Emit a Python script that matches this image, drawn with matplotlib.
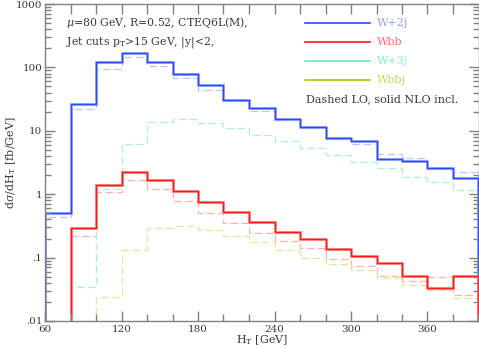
import numpy as np
import matplotlib
matplotlib.use("Agg")
import matplotlib.pyplot as plt
from matplotlib.lines import Line2D

# ---- data ----
ht_edges = [60, 80, 100, 120, 140, 160, 180, 200, 220, 240, 260, 280, 300, 320, 340, 360, 380, 400]

# W+2j, bins from 60 GeV
w2j_nlo = [0.51, 26.5, 123, 171, 122, 79, 53, 30.5, 22.5, 15.5, 11.3, 7.7, 6.8, 3.6, 3.3, 2.56, 1.78]
w2j_lo = [0.43, 21.8, 93, 144, 104, 69, 44, 29.5, 20.7, 14.8, 10.9, 7.4, 6.2, 4.3, 3.7, 2.5, 2.2]
# Wbb, bins from 80 GeV
wbb_nlo = [0.29, 1.4, 2.2, 1.67, 1.14, 0.75, 0.52, 0.36, 0.257, 0.195, 0.137, 0.107, 0.083, 0.051, 0.033, 0.052]
wbb_lo = [0.22, 1.07, 1.7, 1.2, 0.78, 0.51, 0.35, 0.24, 0.185, 0.14, 0.094, 0.074, 0.052, 0.043, 0.049, 0.026]
# W+3j LO, bins from 80 GeV
w3j_lo = [0.034, 1.22, 6.3, 13.6, 15.3, 13.1, 11.1, 8.6, 7.0, 5.3, 4.15, 3.2, 2.56, 1.9, 1.57, 1.16]
# Wbbj LO, bins from 100 GeV
wbbj_lo = [0.024, 0.134, 0.288, 0.313, 0.272, 0.222, 0.175, 0.13, 0.1, 0.078, 0.063, 0.048, 0.037, 0.031, 0.023]

legend_labels = ["W+2j", "Wbb", "W+3j", "Wbbj"]
ytick_vals = [0.01, 0.1, 1, 10, 100, 1000]
ytick_labels = [".01", ".1", "1", "10", "100", "1000"]
xtick_vals = [60, 120, 180, 240, 300, 360]

# ---- figure ----
W, H = 479, 348
fig = plt.figure(figsize=(W / 100, H / 100), dpi=100)
plt.rcParams['mathtext.fontset'] = 'dejavuserif'
ax_l, ax_r, ax_t, ax_b = 45, 478.5, 4, 321
ax = fig.add_axes([ax_l / W, 1 - ax_b / H, (ax_r - ax_l) / W, (ax_b - ax_t) / H])
ax.set_yscale('log')
ax.set_xlim(60, 400)
ax.set_ylim(0.01, 1000)

base = 1e-6
edges = np.array(ht_edges, dtype=float)

# colours
blue, blue_l, blue_d = '#2a48ff', '#9aaaff', '#b8c4ff'
red, red_l, red_d = '#ff1a1a', '#ff8c8c', '#ffb0b0'
cyan_d = '#a8f0e0'
yel_d = '#e4e698'

dash = (0, (6, 3))

# LO dashed
ax.stairs(w2j_lo, edges, baseline=base, color=blue_d, lw=0.9, linestyle=dash)
ax.stairs(wbb_lo, edges[1:], baseline=base, color=red_d, lw=0.9, linestyle=dash)
ax.stairs(w3j_lo, edges[1:], baseline=base, color=cyan_d, lw=0.9, linestyle=dash)
ax.stairs(wbbj_lo, edges[2:], baseline=base, color=yel_d, lw=0.9, linestyle=dash)

# NLO solid (light halo + core)
ax.stairs(w2j_nlo, edges, baseline=base, color=blue_l, lw=2.0)
ax.stairs(w2j_nlo, edges, baseline=base, color=blue, lw=1.0)
ax.stairs(wbb_nlo, edges[1:], baseline=base, color=red_l, lw=2.0)
ax.stairs(wbb_nlo, edges[1:], baseline=base, color=red, lw=1.0)

# axes styling
grey = '#808080'
txtc = '#3a3a3a'
for s in ax.spines.values():
    s.set_color(grey)
    s.set_linewidth(1.0)

ax.set_yticks(ytick_vals)
ax.set_yticklabels(ytick_labels)
ax.set_xticks(xtick_vals)
ax.set_xticklabels([str(v) for v in xtick_vals])
ax.set_xticks(np.arange(60, 401, 20), minor=True)
ax.yaxis.set_minor_locator(matplotlib.ticker.LogLocator(base=10, subs=np.arange(2, 10)))
ax.yaxis.set_minor_formatter(matplotlib.ticker.NullFormatter())

ax.tick_params(axis='y', which='major', direction='in', length=7.5, width=1.0,
               color=grey, right=True, labelsize=7.5, labelcolor=txtc, pad=2)
ax.tick_params(axis='y', which='minor', direction='in', length=4, width=1.0,
               color=grey, right=True)
ax.tick_params(axis='x', which='major', direction='in', length=7.5, width=1.0,
               color=grey, top=False, labelsize=7.5, labelcolor=txtc, pad=3)
ax.tick_params(axis='x', which='minor', direction='in', length=5, width=1.0,
               color=grey, top=False)
for lab in ax.get_xticklabels() + ax.get_yticklabels():
    lab.set_family('DejaVu Serif')

# top ticks: all of equal length every 20 GeV
sec = ax.secondary_xaxis('top')
sec.set_xticks(np.arange(80, 400, 20))
sec.tick_params(direction='in', length=7.5, width=1.0, color=grey, labeltop=False)
sec.spines['top'].set_visible(False)

ax.set_xlabel(r'H$_{\rm T}$ [GeV]', family='DejaVu Serif', fontsize=8, color=txtc)
ax.xaxis.set_label_coords(0.5, (ax_b - 333) / (ax_b - ax_t))
ax.set_ylabel(r'd$\sigma$/dH$_{\rm T}$ [fb/GeV]', family='DejaVu Serif', fontsize=8, color=txtc)
ax.yaxis.set_label_coords((18 - ax_l) / (ax_r - ax_l), 0.5)

# annotations
def ftext(x, y, s, **kw):
    fig.text(x / W, 1 - y / H, s, va='center', ha='left', family='DejaVu Serif', **kw)

ftext(66, 23, r'$\mu$=80 GeV, R=0.52, CTEQ6L(M),', fontsize=7.8, color=txtc)
ftext(66, 42, r'Jet cuts p$_{\rm T}$>15 GeV, |y|<2,', fontsize=7.8, color=txtc)

leg_line_cols = ['#2a48ff', '#ff1a1a', '#60f0b8', '#a8c800']
leg_text_cols = ['#8c9cff', '#ff6a6a', '#80f0d0', '#d0d060']
leg_y = [23, 42, 61, 80]
for lab, lc, tc, y in zip(legend_labels, leg_line_cols, leg_text_cols, leg_y):
    fig.add_artist(Line2D([305 / W, 370 / W], [1 - y / H, 1 - y / H], color=lc, lw=1.2))
    ftext(377, y, lab, fontsize=8, color=tc)
ftext(306, 99, 'Dashed LO, solid NLO incl.', fontsize=8, color=txtc)

fig.savefig('out.png', dpi=100)
